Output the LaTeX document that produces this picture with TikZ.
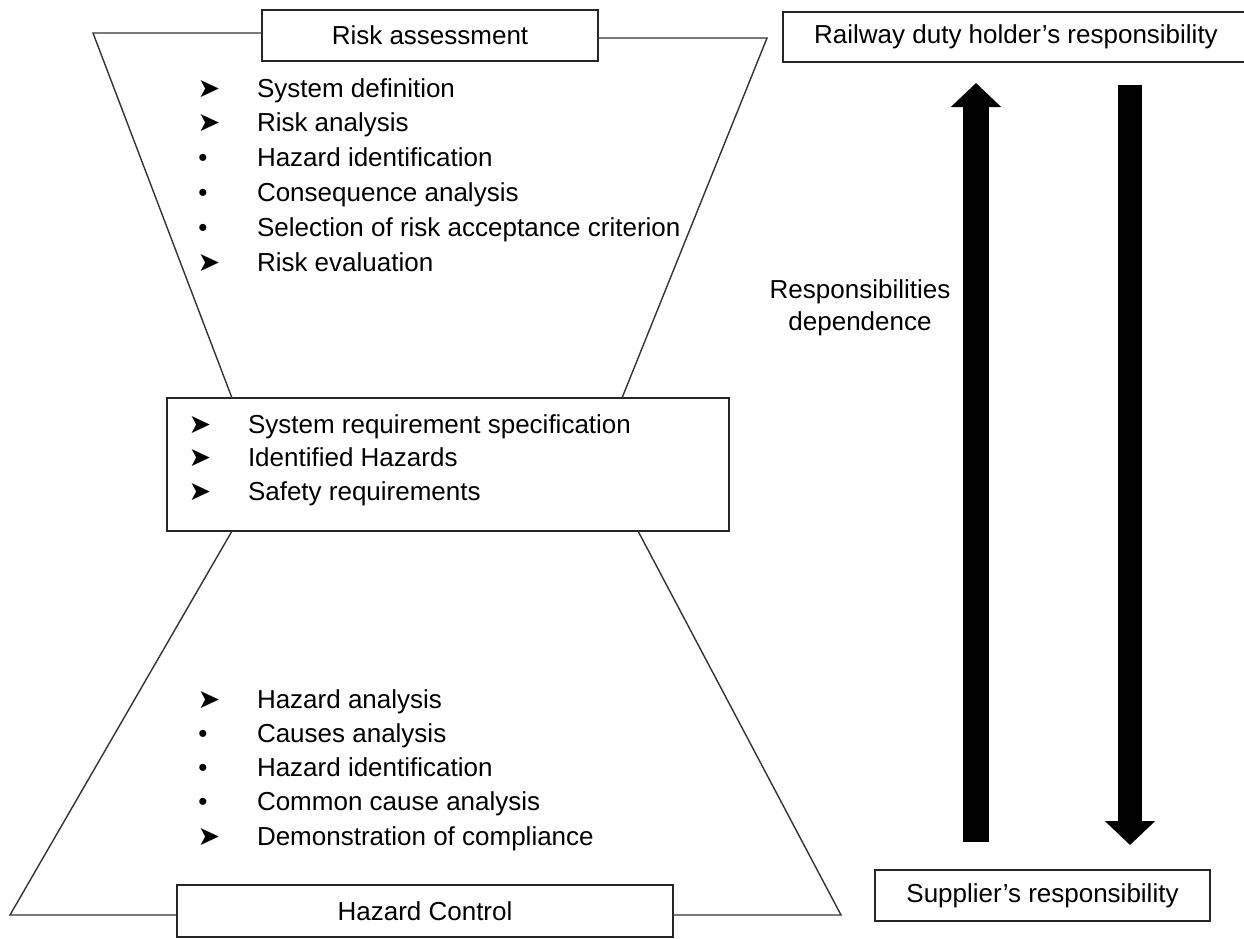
\documentclass[tikz,border=0pt]{standalone}
\usepackage{fontspec}
\setmainfont{Liberation Sans}
\newfontfamily\dejavu{DejaVu Sans}
\usetikzlibrary{arrows.meta}
\newcommand\bulletA{{\dejavu\fontsize{27}{30}\selectfont ➤}}
\newcommand\bulletD{•}
\begin{document}
\begin{tikzpicture}[x=1pt,y=-1pt,
  every node/.style={inner sep=0pt, outer sep=0pt},
  boxnode/.style={draw=black!85, line width=1.8pt, fill=white, font=\fontsize{26}{30}\selectfont},
  funnel/.style={draw=black!80, line width=1.4pt},
  item/.style={font=\fontsize{26}{30}\selectfont, anchor=base west},
  bul/.style={font=\fontsize{26}{30}\selectfont, anchor=base},
  bigarrow/.style={-{Triangle[width=49pt,length=24pt]}}
]
\useasboundingbox (0,0) rectangle (1244,938);

% boxes
\node[boxnode, minimum width=336pt, minimum height=51pt] (ra) at (430,35.5) {Risk assessment};
\node[boxnode, minimum width=562pt, minimum height=133pt] (mid) at (448,464.5) {};
\node[boxnode, minimum width=496pt, minimum height=52pt] (hc) at (425,911) {Hazard Control};
\node[boxnode, minimum width=466pt, minimum height=50pt] (rdh) at (1016,37) {Railway duty holder's responsibility};
\node[boxnode, minimum width=335pt, minimum height=51pt] (sup) at (1042.5,895.5) {Supplier's responsibility};

% funnel
\coordinate (tl) at (93,33);
\coordinate (tr) at (767,38);
\coordinate (ul) at (232,398);
\coordinate (ur) at (622,398);
\coordinate (ll) at (232,531);
\coordinate (lr) at (638,531);
\coordinate (bl) at (10,915);
\coordinate (br) at (841,915);
\draw[funnel] (ra.west |- tl) -- (tl) -- (ul);
\draw[funnel] (ra.east |- tr) -- (tr) -- (ur);
\draw[funnel] (ll) -- (bl) -- (hc.west |- bl);
\draw[funnel] (lr) -- (br) -- (hc.east |- br);

% upper list
\foreach \k/\bx/\t [count=\i from 0] in {A/209/System definition, A/209/Risk analysis, D/203/Hazard identification, D/203/Consequence analysis, D/203/Selection of risk acceptance criterion, A/209/Risk evaluation} {
  \node[bul] (ub\i) at (\bx,{97+34.8*\i}) {\csname bullet\k\endcsname};
  \node[item] (ut\i) at (257,{97+34.8*\i}) {\t};
}
% middle list
\foreach \t [count=\i from 0] in {System requirement specification, Identified Hazards, Safety requirements} {
  \node[bul] (mb\i) at (200,{433+33.5*\i}) {\bulletA};
  \node[item] (mt\i) at (248,{433+33.5*\i}) {\t};
}
% lower list
\foreach \k/\bx/\t [count=\i from 0] in {A/209/Hazard analysis, D/203/Causes analysis, D/203/Hazard identification, D/203/Common cause analysis, A/209/Demonstration of compliance} {
  \node[bul] (lb\i) at (\bx,{708+34.3*\i}) {\csname bullet\k\endcsname};
  \node[item] (lt\i) at (257,{708+34.3*\i}) {\t};
}

% big arrows
\coordinate (upS) at (976,842);
\coordinate (upE) at (976,83);
\coordinate (dnS) at (1130,85);
\coordinate (dnE) at (1130,845);
\draw[bigarrow, line width=26pt] (upS) -- (upE);
\draw[bigarrow, line width=24pt] (dnS) -- (dnE);

\node[font=\fontsize{26}{32}\selectfont, align=center] (dep) at (860,307.5) {Responsibilities\\dependence};
\end{tikzpicture}
\end{document}
